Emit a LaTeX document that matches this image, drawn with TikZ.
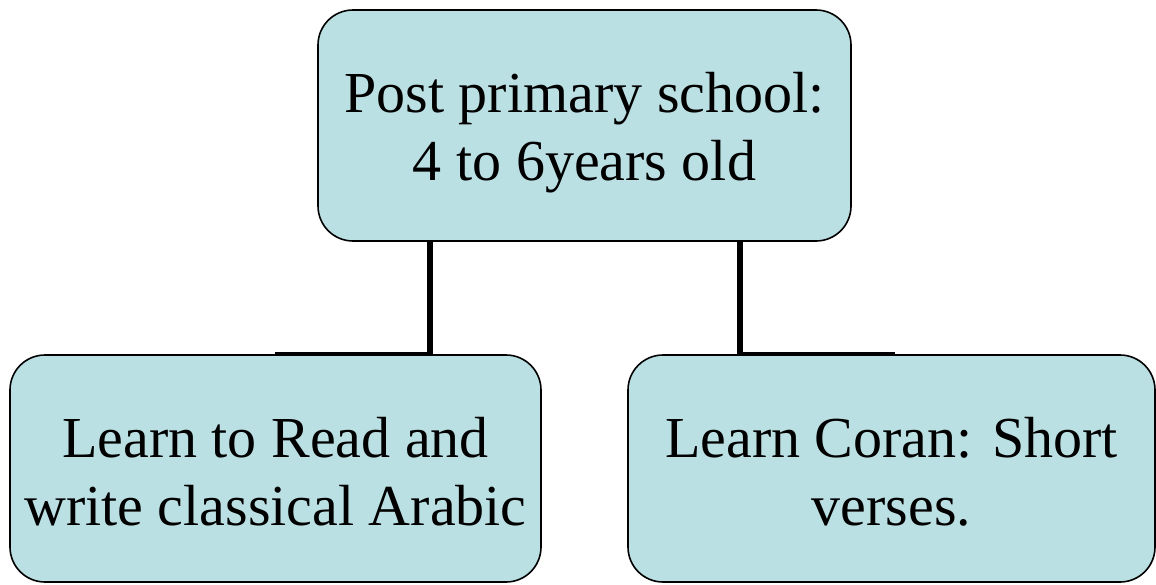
\documentclass[tikz,border=0pt]{standalone}
\usepackage{fontspec}
\setmainfont{Liberation Serif}
\usepackage{tikz}
\usetikzlibrary{positioning}
\definecolor{boxfill}{HTML}{BBE0E3}

\begin{document}
\begin{tikzpicture}[x=1pt,y=-1pt,font=\fontsize{58}{68}\selectfont]
            \tikzstyle{stage box}=[rectangle,draw,line width=1.6pt,fill=boxfill,rounded corners=35pt,inner sep=0pt]
            \tikzstyle{stage text}=[align=center,inner sep=0pt]
            \tikzstyle{stem}=[line width=6pt]
            \tikzstyle{bar}=[line width=3pt]
            \useasboundingbox (0,0) rectangle (1156,584);
            \node(top)[stage box,minimum width=533pt,minimum height=231pt,
              label={[stage text,yshift=-7pt]center:Post primary school:\\4 to 6years old}] at (584.5,125.5){};
            \node(read)[stage box,minimum width=531pt,minimum height=227pt,
              label={[stage text,yshift=-3pt]center:Learn to Read and\\write classical Arabic}] at (275.5,468.5){};
            \node(coran)[stage box,minimum width=527pt,minimum height=227pt,
              label={[stage text,yshift=-3pt]center:Learn Coran: Short\\verses.}] at (891.5,468.5){};
            \coordinate(lj) at (430,354);
            \coordinate(le) at (275,353);
            \coordinate(rj) at (740,354);
            \coordinate(re) at (895,353);
            \draw[stem] (top.south -| lj) -- (lj);
            \draw[bar] (le) -- (le -| lj);
            \draw[stem] (top.south -| rj) -- (rj);
            \draw[bar] (re -| rj) -- (re);
          \end{tikzpicture}
\end{document}
